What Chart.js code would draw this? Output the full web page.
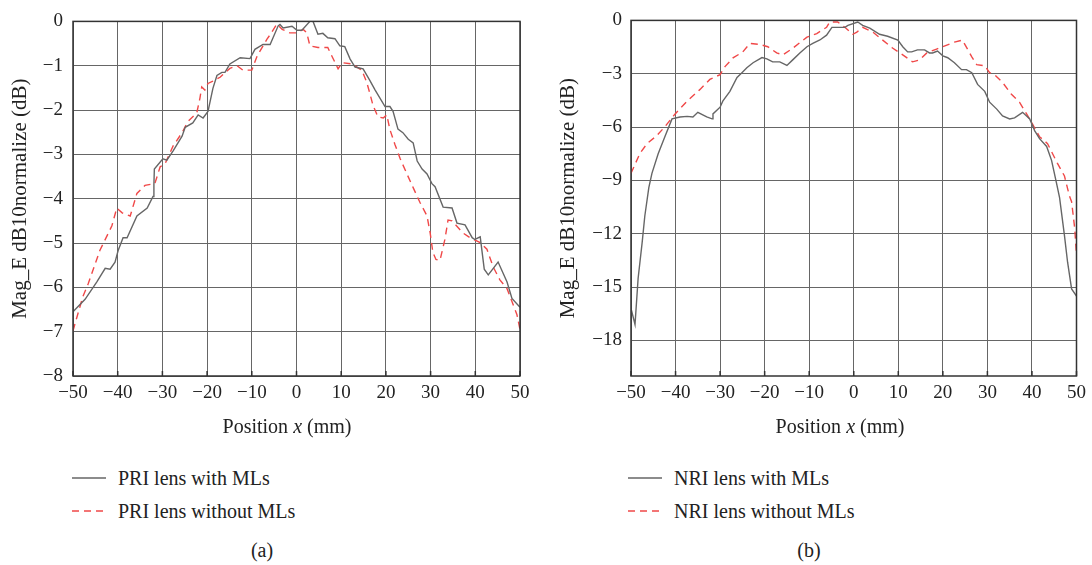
<!DOCTYPE html>
<html>
<head>
<meta charset="utf-8">
<script src="https://cdn.jsdelivr.net/npm/chart.js@4/dist/chart.umd.min.js"></script>
<style>
  body { margin: 0; background: #fff; }
  #page { position: relative; width: 1092px; height: 565px; font-family: "Liberation Serif", "DejaVu Serif", serif; color: #222; }
  .box { position: absolute; top: 0; width: 546px; height: 420px; }
  .txt { position: absolute; font-size: 20px; white-space: nowrap; line-height: 20px; }
  .ctr { transform: translateX(-50%); }
  .leg { position: absolute; }
</style>
</head>
<body>
<div id="page">
  <div class="box" style="left:0"><canvas id="chartA"></canvas></div>
  <div class="box" style="left:546px"><canvas id="chartB"></canvas></div>

  <div class="txt ctr" style="left:287px; top:416px">Position <i>x</i> (mm)</div>
  <div class="txt ctr" style="left:840px; top:416px">Position <i>x</i> (mm)</div>

  <svg class="leg" style="left:72px; top:470px" width="34" height="45">
    <line x1="0" y1="8" x2="34" y2="8" stroke="#666" stroke-width="1.3"/>
    <line x1="0" y1="41" x2="34" y2="41" stroke="#f04848" stroke-width="1.3" stroke-dasharray="7,5"/>
  </svg>
  <div class="txt" style="left:118px; top:468px">PRI lens with MLs</div>
  <div class="txt" style="left:118px; top:501px">PRI lens without MLs</div>

  <svg class="leg" style="left:628px; top:470px" width="34" height="45">
    <line x1="0" y1="8" x2="34" y2="8" stroke="#666" stroke-width="1.3"/>
    <line x1="0" y1="41" x2="34" y2="41" stroke="#f04848" stroke-width="1.3" stroke-dasharray="7,5"/>
  </svg>
  <div class="txt" style="left:674px; top:468px">NRI lens with MLs</div>
  <div class="txt" style="left:674px; top:501px">NRI lens without MLs</div>

  <div class="txt ctr" style="left:262px; top:540px">(a)</div>
  <div class="txt ctr" style="left:809px; top:540px">(b)</div>
</div>
<script>
// (a) PRI lens
const priWithX = [-50, -47.3, -44.7, -42.8, -41.7, -40.6, -39.9, -38.8, -37.9, -35.7, -33.4, -32.1, -31.9, -31.8,
  -29.9, -29.0, -27.6, -25.6, -24.9, -23.2, -22.0, -20.9, -19.8, -18.7, -17.8, -16.7, -16.0, -14.9, -12.6, -10.4,
  -9.3, -7.5, -5.9, -4.1, -3.7, -3.0, -1.0, 0.1, 1.2, 3.0, 3.7, 4.8, 5.9, 7.0, 8.6, 9.7, 10.8, 12.0, 13.1, 14.9,
  16.4, 17.6, 19.8, 20.9, 21.6, 22.7, 23.8, 25.0, 26.1, 27.0, 28.1, 29.2, 30.3, 31.0, 32.8, 34.8, 35.9, 37.7,
  39.3, 39.9, 41.1, 42.0, 42.9, 45.1, 47.1, 48.2, 50];
const priWithY = [-6.55, -6.27, -5.88, -5.57, -5.59, -5.43, -5.17, -4.88, -4.88, -4.39, -4.21, -3.95, -3.68, -3.33,
  -3.1, -3.13, -2.92, -2.59, -2.39, -2.29, -2.11, -2.18, -2.03, -1.51, -1.22, -1.15, -1.15, -0.96, -0.82, -0.84,
  -0.63, -0.52, -0.52, -0.1, -0.07, -0.15, -0.11, -0.2, -0.2, 0, 0, -0.29, -0.27, -0.37, -0.39, -0.55, -0.57, -0.85, -1.03, -1.07,
  -1.33, -1.55, -1.92, -1.92, -2.03, -2.43, -2.51, -2.66, -2.74, -3.15, -3.33, -3.44, -3.66, -3.73, -4.19, -4.21, -4.55, -4.59,
  -4.88, -4.92, -4.86, -5.59, -5.72, -5.43, -5.88, -6.25, -6.45];

const priWithoutX = [-50, -47.8, -46.6, -44.0, -41.3, -40.2, -39.0, -37.2, -35.7, -33.9, -31.7, -30.5, -29.4, -27.6,
  -25.6, -24.3, -22.3, -21.6, -21.2, -20.5, -19.8, -18.7, -17.1, -14.9, -13.3, -12.0, -10.0, -8.8, -6.6, -5.9, -4.4,
  -3.2, -1.5, 0.1, 1.5, 2.3, 3.0, 4.8, 7.0, 7.9, 9.3, 10.2, 12.4, 14.6, 15.7, 16.4, 17.1, 18.2, 19.4, 20.2, 20.9,
  22.0, 23.2, 24.7, 26.1, 27.6, 29.2, 29.9, 30.5, 31.2, 32.1, 33.2, 33.9, 34.8, 37.2, 38.8, 41.1, 42.6, 44.0, 45.5,
  47.1, 48.2, 49.3, 50];
const priWithoutY = [-6.98, -6.21, -5.92, -5.17, -4.61, -4.21, -4.32, -4.39, -3.88, -3.7, -3.66, -3.28, -3.21, -2.81,
  -2.51, -2.26, -2.06, -1.73, -1.48, -1.55, -1.40, -1.35, -1.26, -1.06, -1.0, -1.1, -1.1, -0.78, -0.4, -0.3, -0.06,
  -0.18, -0.26, -0.26, -0.18, -0.26, -0.55, -0.59, -0.59, -0.78, -1.07, -0.93, -0.96, -1.1, -1.37, -1.62, -1.89, -2.15, -2.18, -2.11, -2.44,
  -2.77, -3.1, -3.44, -3.75, -4.08, -4.39, -4.77, -5.21, -5.37, -5.39, -4.92, -4.48, -4.50, -4.77, -4.88, -4.99, -5.14, -5.54, -5.83,
  -6.03, -6.32, -6.61, -6.95];

// (b) NRI lens
const nriWithX = [-50, -49.1, -48.4, -47.5, -46.9, -46.0, -45.3, -43.9, -42.4, -40.8, -39.0, -37.4, -36.1, -35.0,
  -33.0, -31.8, -31.6, -30.0, -29.4, -27.8, -26.2, -25.1, -24.0, -22.6, -20.6, -19.5, -18.2, -16.6, -15.0, -13.7,
  -12.1, -10.5, -9.2, -7.6, -6.1, -4.9, -3.6, -2.0, -1.3, 0.9, 2.0, 3.6, 5.8, 7.6, 9.9, 11.0, 12.1, 13.0, 14.3,
  15.9, 17.0, 17.7, 18.8, 20.0, 21.1, 22.6, 24.2, 25.3, 26.5, 27.8, 29.4, 30.5, 32.1, 33.4, 35.0, 36.1, 37.9,
  39.5, 40.6, 41.7, 43.3, 44.4, 45.5, 46.2, 47.3, 48.0, 48.9, 50];
const nriWithY = [-16.2, -17.1, -14.5, -12.5, -11.0, -9.4, -8.6, -7.5, -6.54, -5.54, -5.43, -5.4, -5.43, -5.17,
  -5.43, -5.54, -5.26, -4.88, -4.54, -3.99, -3.21, -2.94, -2.66, -2.38, -2.09, -2.16, -2.33, -2.33, -2.53, -2.22,
  -1.83, -1.48, -1.29, -1.1, -0.83, -0.39, -0.39, -0.39, -0.28, -0.09, -0.28, -0.44, -0.78, -0.89, -1.11, -1.48, -1.77, -1.77, -1.66,
  -1.66, -1.83, -1.83, -1.72, -1.99, -2.1, -2.38, -2.77, -2.77, -2.94, -3.6, -3.99, -4.6, -4.99, -5.37, -5.54, -5.48, -5.17,
  -5.54, -6.2, -6.65, -7.09, -7.87, -9.14, -9.97, -12.1, -13.6, -15.1, -15.5];

const nriWithoutX = [-50, -48.0, -46.4, -44.2, -42.4, -40.1, -37.4, -34.5, -32.3, -30.0, -28.9, -27.1, -24.9, -23.3,
  -21.1, -19.3, -17.3, -15.9, -13.7, -10.5, -8.3, -6.1, -5.4, -3.6, -2.0, -0.2, 0.7, 2.0, 4.3, 6.5, 8.7, 11.0,
  13.2, 14.8, 16.4, 18.6, 20.9, 22.6, 24.4, 26.5, 27.6, 29.4, 30.5, 31.6, 33.4, 35.4, 37.2, 38.8, 40.1, 41.7,
  43.5, 45.7, 47.3, 48.4, 48.9, 49.6, 50];
const nriWithoutY = [-8.6, -7.48, -6.93, -6.48, -5.98, -5.26, -4.54, -3.88, -3.32, -3.05, -2.6, -2.11, -1.77, -1.29,
  -1.35, -1.48, -1.83, -1.94, -1.57, -0.94, -0.74, -0.39, -0.09, -0.09, -0.39, -0.78, -0.66, -0.39, -0.66, -1.11, -1.55, -1.94,
  -2.33, -2.22, -1.83, -1.61, -1.39, -1.22, -1.11, -2.05, -2.49, -2.55, -2.94, -3.05, -3.49, -4.16, -4.6, -5.26, -5.82, -6.54,
  -6.93, -8.03, -8.75, -9.86, -10.2, -11.7, -13.2];

const xTicks = [-50, -40, -30, -20, -10, 0, 10, 20, 30, 40, 50];
const priTicks = [0, -1, -2, -3, -4, -5, -6, -7, -8];
const nriTicks = [0, -3, -6, -9, -12, -15, -18];

const yTitle = 'Mag_E dB10normalize (dB)';
const serif = '"Liberation Serif", "DejaVu Serif", serif';

function pairs(xs, ys) {
    return xs.map((x, i) => ({ x: x, y: ys[i] }));
}

function minus(v) {
    return String(v).replace('-', '\u2212');
}

// draws the closed frame and the small inward ticks on the x axis
const framePlugin = {
    id: 'frame',
    afterDraw(chart) {
        const { ctx, chartArea: a, scales } = chart;
        ctx.save();
        ctx.strokeStyle = '#333';
        ctx.lineWidth = 1.5;
        ctx.strokeRect(a.left, a.top, a.right - a.left, a.bottom - a.top);
        ctx.beginPath();
        xTicks.forEach(v => {
            const px = scales.x.getPixelForValue(v);
            ctx.moveTo(px, a.bottom);
            ctx.lineTo(px, a.bottom - 5);
        });
        ctx.stroke();
        ctx.restore();
    }
};

function makeChart(id, opts) {
    const grid = {
        color: '#666',
        lineWidth: 1,
        borderDash: [1, 2],
        drawTicks: false
    };
    return new Chart(document.getElementById(id), {
        type: 'line',
        data: {
            datasets: [
                {
                    label: opts.labels[0],
                    data: opts.solid,
                    borderColor: '#666',
                    borderWidth: 1.4,
                    pointRadius: 0,
                    tension: 0
                },
                {
                    label: opts.labels[1],
                    data: opts.dashed,
                    borderColor: '#f04848',
                    borderWidth: 1.4,
                    borderDash: [7, 5],
                    pointRadius: 0,
                    tension: 0
                }
            ]
        },
        options: {
            responsive: true,
            maintainAspectRatio: false,
            animation: false,
            layout: {
                padding: { top: 15, right: opts.padRight, bottom: 0, left: 0 }
            },
            plugins: {
                legend: { display: false },
                tooltip: { enabled: false }
            },
            scales: {
                x: {
                    type: 'linear',
                    min: -50,
                    max: 50,
                    afterBuildTicks: axis => { axis.ticks = xTicks.map(v => ({ value: v })); },
                    afterFit: axis => { axis.height = 44; },
                    grid: grid,
                    border: { display: false },
                    ticks: {
                        padding: 6,
                        color: '#222',
                        font: { family: serif, size: 19 },
                        maxRotation: 0,
                        callback: v => minus(v)
                    }
                },
                y: {
                    min: opts.yMin,
                    max: 0,
                    afterBuildTicks: axis => { axis.ticks = opts.yTicks.map(v => ({ value: v })); },
                    afterFit: axis => { axis.width = opts.axisWidth; },
                    grid: grid,
                    border: { display: false },
                    ticks: {
                        padding: opts.tickPad,
                        color: '#222',
                        font: { family: serif, size: 19 },
                        callback: v => minus(v)
                    },
                    title: {
                        display: true,
                        text: yTitle,
                        color: '#222',
                        font: { family: serif, size: 21 },
                        padding: { top: opts.titlePad, bottom: 0 }
                    }
                }
            }
        },
        plugins: [framePlugin]
    });
}

makeChart('chartA', {
    labels: ['PRI lens with MLs', 'PRI lens without MLs'],
    solid: pairs(priWithX, priWithY),
    dashed: pairs(priWithoutX, priWithoutY),
    yMin: -8,
    yTicks: priTicks,
    axisWidth: 73,
    padRight: 26,
    tickPad: 10,
    titlePad: 8
});

makeChart('chartB', {
    labels: ['NRI lens with MLs', 'NRI lens without MLs'],
    solid: pairs(nriWithX, nriWithY),
    dashed: pairs(nriWithoutX, nriWithoutY),
    yMin: -20,
    yTicks: nriTicks,
    axisWidth: 85,
    padRight: 15,
    tickPad: 9,
    titlePad: 10
});
</script>
</body>
</html>
